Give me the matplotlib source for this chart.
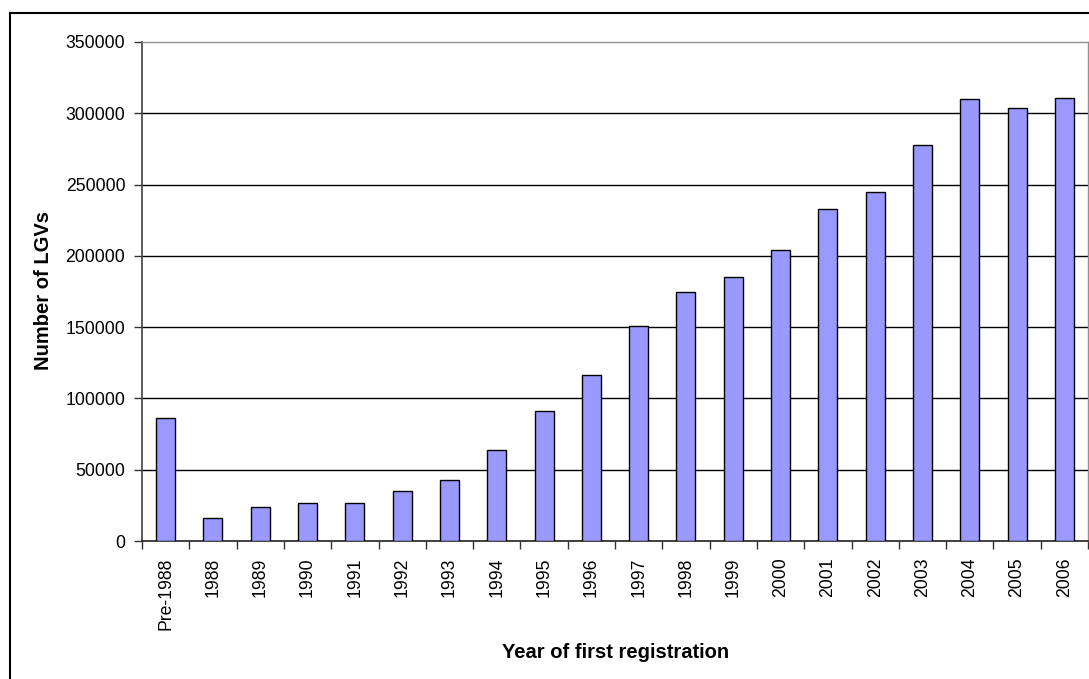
import matplotlib
matplotlib.use("Agg")
import matplotlib.pyplot as plt
from matplotlib.patches import Rectangle

categories = ["Pre-1988", "1988", "1989", "1990", "1991", "1992", "1993", "1994",
              "1995", "1996", "1997", "1998", "1999", "2000", "2001", "2002",
              "2003", "2004", "2005", "2006"]
values = [86000, 16000, 24000, 27000, 27000, 35000, 43000, 64000,
          91000, 116500, 151000, 175000, 185000, 204000, 233000, 245000,
          278000, 310000, 304000, 311000]
yticks = [0, 50000, 100000, 150000, 200000, 250000, 300000, 350000]

plt.rcParams['font.family'] = ['Liberation Sans', 'DejaVu Sans']

W, H = 1089, 679
fig = plt.figure(figsize=(W / 100, H / 100), dpi=100)
fig.patch.set_facecolor('white')

# outer chart border (left and top visible, others cut off)
fig.add_artist(Rectangle((10 / W, -0.1), 2.0, (H - 12.5) / H + 0.1,
                         transform=fig.transFigure, fill=False,
                         edgecolor='black', linewidth=1.5))

left, right, top, bottom = 142, 1088, 42, 541
ax = fig.add_axes([left / W, (H - bottom) / H, (right - left) / W, (bottom - top) / H])

x = list(range(len(categories)))
ax.bar(x, values, width=0.4, color='#9999FF', edgecolor='black', linewidth=1.0, zorder=3)

ax.set_xlim(-0.5, len(categories) - 0.5)
ax.set_ylim(0, 350000)
ax.set_yticks(yticks)
ax.set_yticklabels([str(v) for v in yticks], fontsize=12.7)
for v in yticks[1:-1]:
    ax.axhline(v, color='black', linewidth=1.0, zorder=1)

ax.set_xticks(x)
ax.set_xticklabels(categories, rotation=90, fontsize=12.7)
ax.tick_params(axis='x', length=0, pad=12)
# minor ticks at category boundaries
ax.set_xticks([i - 0.5 for i in range(len(categories) + 1)], minor=True)
ax.tick_params(axis='x', which='minor', length=6, width=1.0, color='#333333', direction='out')
ax.tick_params(axis='y', length=6, width=1.0, color='#333333', direction='out', pad=6)

for s in ['top', 'right']:
    ax.spines[s].set_color('#909090')
    ax.spines[s].set_linewidth(1.0)
ax.spines['left'].set_color('#404040')
ax.spines['bottom'].set_color('#202020')
ax.spines['left'].set_linewidth(1.2)
ax.spines['bottom'].set_linewidth(1.2)

fig.text(616 / W, 1 - 652 / H, "Year of first registration", ha='center', va='center',
         fontsize=14.5, fontweight='bold')
fig.text(43.5 / W, 1 - 290 / H, "Number of LGVs", ha='center', va='center',
         rotation=90, fontsize=14.5, fontweight='bold')

fig.savefig("out.png", dpi=100)
